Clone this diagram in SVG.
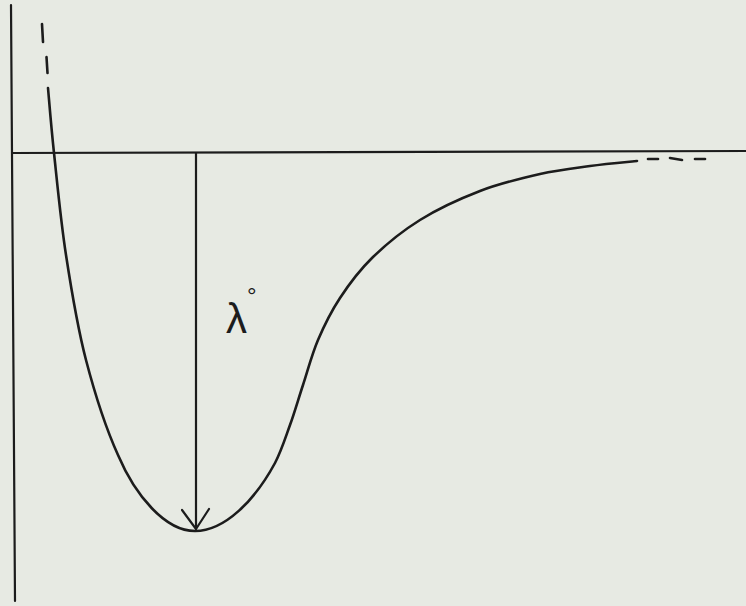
<svg xmlns="http://www.w3.org/2000/svg" width="746" height="606" viewBox="0 0 746 606">
<style>
.ink{fill:none;stroke:#1c1c1c;stroke-linecap:round;stroke-linejoin:round}
.axis{stroke-width:2.2}
.curve{stroke-width:2.6}
.lbl{font-family:"Liberation Sans",Arial,sans-serif;fill:#1c1c1c}
</style>
<defs>
<marker id="vhead" viewBox="0 0 24 30" refX="22" refY="15" markerWidth="24" markerHeight="30" markerUnits="userSpaceOnUse" orient="auto">
<path d="M2,2 L22,15 L3,29" fill="none" stroke="#1c1c1c" stroke-width="2.2" stroke-linecap="round" stroke-linejoin="round"/>
</marker>
</defs>
<rect width="746" height="606" fill="#e7eae3"/>
<g id="axes">
<line class="ink axis" x1="11" y1="5" x2="15" y2="601"/>
<line class="ink axis" x1="12" y1="153" x2="746" y2="151"/>
</g>
<g id="potential-curve">
<path class="ink curve" d="M48,88 C49,98.8 51,125.2 54,153 C57,180.8 60.7,220.5 66,255 C71.3,289.5 77.3,326.7 86,360 C94.7,393.3 106,428.5 118,455 C135,495 165,531 195,531 C225,531 255,500 275,463 C281.3,451 285.3,438 290,425 C294.7,412 298.3,399.2 303,385 C307.7,370.8 311.8,354.5 318,340 C324.2,325.5 331,311.7 340,298 C349,284.3 358.7,271 372,258 C385.3,245 402,231.2 420,220 C438,208.8 460,198.7 480,191 C500,183.3 521.7,178.2 540,174 C558.3,169.8 573.8,168.2 590,166 C606.2,163.8 629.2,161.8 637,161"/>
<line class="ink curve" x1="42" y1="24" x2="43" y2="42"/>
<line class="ink curve" x1="46.5" y1="57" x2="47.5" y2="73"/>
<line class="ink curve" x1="648" y1="159" x2="658" y2="159"/>
<line class="ink curve" x1="670" y1="158" x2="682" y2="160"/>
<line class="ink curve" x1="695" y1="159" x2="705" y2="159"/>
</g>
<g id="connectors">
<line class="ink axis" x1="196" y1="153" x2="196" y2="529" marker-end="url(#vhead)"/>
</g>
<g id="label">
<text class="lbl" x="226" y="333" font-size="42">λ</text>
<text class="lbl" x="247" y="304" font-size="24">°</text>
</g>
</svg>
